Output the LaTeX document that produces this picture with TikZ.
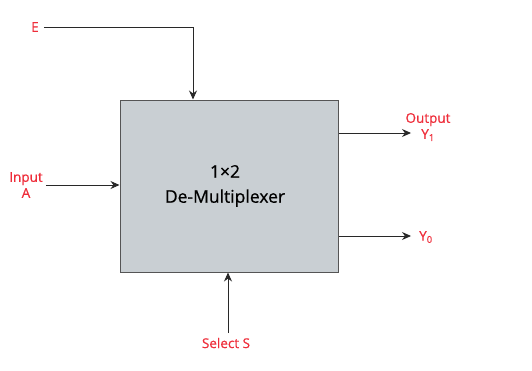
\documentclass[tikz,border=0pt]{standalone}
\usepackage{fontspec}
\setmainfont{Open Sans}
\newfontfamily\labelfont[FakeBold=0.6]{Open Sans}
\usetikzlibrary{arrows.meta}
\definecolor{sigred}{RGB}{238,45,58}
\definecolor{boxfill}{RGB}{201,207,211}
\definecolor{boxline}{RGB}{85,85,85}
\definecolor{wire}{RGB}{40,40,40}
\begin{document}
\begin{tikzpicture}[x=1pt,y=-1pt,
  sig/.style={text=sigred,font=\labelfont\fontsize{13.5}{16}\selectfont,align=center,inner sep=0pt},
  wireline/.style={draw=wire,line width=0.9pt},
  arrowline/.style={wireline,-{Stealth[length=9pt,width=8pt]}}]
\useasboundingbox (0,0) rectangle (532,370);
% the demultiplexer block
\node[draw=boxline,fill=boxfill,line width=1pt,minimum width=218pt,minimum height=172pt,inner sep=0pt] (demux) at (229,186) {};
\node[font=\labelfont\fontsize{17.5}{25}\selectfont,align=center] (title) at (225,186) {1×2\\De-Multiplexer};
% signal labels
\node[sig] (E) at (35,27) {E};
\node[sig] (A) at (26,185) {Input\\A};
\node[sig] (Y1) at (428,127) {Output\\Y\textsubscript{1}};
\node[sig,anchor=west] (Y0) at (419,237) {Y\textsubscript{0}};
\node[sig] (S) at (226,343) {Select S};
% auxiliary wire ends
\coordinate (Ecorner) at (193,27);
\coordinate (Y1end) at (411,133);
\coordinate (Y0end) at (411,236);
% connectors
\draw[arrowline] (E.east) ++(5pt,0) -- (Ecorner) -- (Ecorner |- demux.north);
\draw[arrowline] (A.east) ++(3pt,0) -- (A.east -| demux.west);
\draw[arrowline] (Y1end -| demux.east) -- (Y1end);
\draw[arrowline] (Y0end -| demux.east) -- (Y0end);
\draw[arrowline] (228,333) -- (228,0 |- demux.south);
\end{tikzpicture}
\end{document}
